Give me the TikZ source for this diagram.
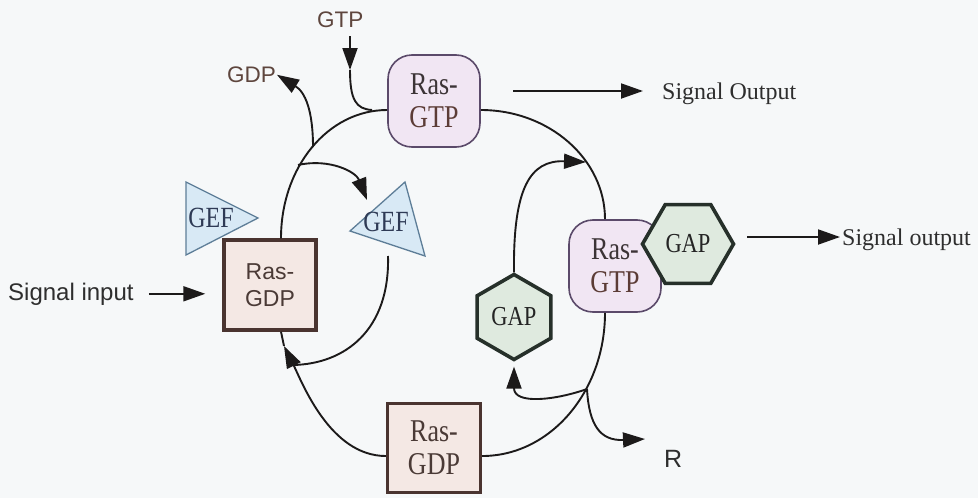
\documentclass[tikz,border=0pt]{standalone}
\usepackage{graphicx}
\usepackage{fontspec}
\setmainfont{Liberation Serif}
\setsansfont{Liberation Sans}
\usetikzlibrary{arrows.meta,shapes.geometric,calc}

% tall serif lettering used inside the protein shapes
\newcommand\tall[1]{\scalebox{1}[1.22]{#1}}

\definecolor{bgc}{HTML}{F6F8F9}
\definecolor{lineink}{HTML}{1C1A1A}
\definecolor{gtpfill}{HTML}{F1E6F3}
\definecolor{gtpline}{HTML}{5B4A6A}
\definecolor{gdpfill}{HTML}{F4E8E4}
\definecolor{gdpline}{HTML}{4A3430}
\definecolor{geffill}{HTML}{D8E9F5}
\definecolor{gefline}{HTML}{5E7E98}
\definecolor{gefink}{HTML}{2E3A55}
\definecolor{gapfill}{HTML}{DFEADF}
\definecolor{gapline}{HTML}{26302A}
\definecolor{gapink}{HTML}{242424}
\definecolor{ink}{HTML}{2E2E2E}
\definecolor{brownink}{HTML}{5E463E}
\definecolor{rasink}{HTML}{3C3436}
\definecolor{gtpink}{HTML}{5C3C36}
\definecolor{rasbrown}{HTML}{4A3A36}

\begin{document}
\begin{tikzpicture}[x=1pt,y=-1pt,
  conn/.style={line width=1.9pt, draw=lineink},
  tip/.style={conn, -{Triangle[length=22pt,width=15pt]}},
  gtpbox/.style={draw=gtpline, fill=gtpfill, line width=1.6pt,
    rounded corners=24pt, minimum width=92pt, minimum height=92pt,
    inner sep=0pt, align=center, text=rasink,
    font=\fontsize{26}{33}\selectfont},
  gdpbox/.style={draw=gdpline, fill=gdpfill, line width=3.4pt,
    minimum width=92pt, minimum height=90pt, inner sep=0pt,
    align=center, text=rasbrown},
  gapshape/.style={draw=gapline, fill=gapfill, line width=3.6pt,
    regular polygon, regular polygon sides=6, inner sep=0pt,
    text=gapink, font=\fontsize{22.5}{26}\selectfont},
  gefshape/.style={draw=gefline, fill=geffill, line width=1.3pt},
  geftext/.style={inner sep=0pt, text=gefink, font=\fontsize{24}{26}\selectfont},
  sflabel/.style={inner sep=0pt, text=ink, font=\sffamily\fontsize{24}{28}\selectfont},
  nuclabel/.style={inner sep=0pt, text=brownink, font=\sffamily\fontsize{22.5}{26}\selectfont},
  seriflabel/.style={inner sep=0pt, text=ink, font=\fontsize{24}{28}\selectfont}
]
% canvas
\fill[bgc] (0,0) rectangle (978,498);
\useasboundingbox (0,0) rectangle (978,498);

% exchange factors (triangles)
\coordinate (gefLa) at (186,182);
\coordinate (gefLb) at (258,218);
\coordinate (gefLc) at (186,255);
\filldraw[gefshape] (gefLa) -- (gefLb) -- (gefLc) -- cycle;
\node[geftext] (gefL) at (211,218) {\tall{GEF}};

\coordinate (gefRa) at (350,231);
\coordinate (gefRb) at (405,182);
\coordinate (gefRc) at (425,256);
\filldraw[gefshape] (gefRa) -- (gefRb) -- (gefRc) -- cycle;
\node[geftext] (gefR) at (386,222) {\tall{GEF}};

% Ras states
\node[gdpbox, font=\sffamily\fontsize{23}{27}\selectfont] (gdpL) at (270,285) {Ras-\\GDP};
\node[gtpbox] (gtpT) at (434,101) {\tall{Ras-}\\\textcolor{gtpink}{\tall{GTP}}};
\node[gdpbox, minimum width=93pt, minimum height=89pt, font=\fontsize{26}{33}\selectfont] (gdpB) at (434,448) {\tall{Ras-}\\\tall{GDP}};
\node[gtpbox] (gtpR) at (615,266) {\tall{Ras-}\\\textcolor{gtpink}{\tall{GTP}}};

% GTPase activating proteins
\node[gapshape, minimum size=91pt] (gapR) at (688,244) {\tall{GAP}};
\node[gapshape, minimum size=85pt, shape border rotate=30] (gapL) at (514,317) {\tall{GAP}};

% text labels
\node[sflabel, anchor=base west] (sigin) at (8,300) {Signal input};
\node[nuclabel, anchor=base west] (gtp) at (317,27) {GTP};
\node[nuclabel, anchor=base west] (gdp) at (227,82) {GDP};
\node[seriflabel, anchor=base west] (sigOut) at (662,99) {Signal Output};
\node[seriflabel, anchor=base west] (sigOut2) at (842,245) {Signal output};
\node[sflabel, anchor=base west, font=\sffamily\fontsize{25}{28}\selectfont] (rlab) at (664,467) {R};

% main cycle
\draw[conn] ($(gtpT.west)+(0,9)$) .. controls (328,110) and (281,167) .. ($(gdpL.north)+(11,0)$);
\coordinate (tipL) at (284,346);
\draw[tip] ($(gdpB.west)+(0,8)$) .. controls (330,456) and (302,382) .. (tipL);
\draw[conn] ($(gdpL.south)+(11,0)$) -- (tipL);
\draw[conn] ($(gtpT.east)+(0,9)$) .. controls (549,110) and (605,159) .. ($(gtpR.north)+(-10,0)$);
\draw[conn] ($(gtpR.south)+(-10,0)$) .. controls (605,392) and (550,456) .. ($(gdpB.east)+(0,8)$);

% nucleotide exchange
\coordinate (gtpIn) at (350,70);
\draw[tip, shorten <=9pt] (gtp.south -| gtpIn) -- (gtpIn);
\coordinate (gtpJoin) at (372,110);
\draw[conn] (gtpIn) .. controls (350,100) and (356,109) .. (gtpJoin);
\coordinate (gdpOut) at (313,147);
\draw[tip, shorten >=1pt] (gdpOut) .. controls (313,110) and (305,92) .. (gdp.east);

% GEF recycling
\coordinate (gefIn) at (298,165);
\coordinate (gefTip) at (367,200);
\draw[tip] (gefIn) .. controls (330,158) and (356,172) .. (gefTip);
\coordinate (gefOut) at (388,256);
\coordinate (gefMerge) at (293,365);
\draw[conn] (gefOut) .. controls (390,330) and (345,364) .. (gefMerge);

% GAP recycling and release
\coordinate (gapJoin) at (586,162);
\draw[tip] (gapL.north) .. controls (513,188) and (530,160) .. (gapJoin);
\coordinate (branch) at (587,389);
\draw[tip] (branch) .. controls (556,400) and (514,405) .. ($(gapL.south)+(0,5)$);
\coordinate (rTip) at (645,439);
\draw[tip] (branch) .. controls (589,425) and (600,441) .. (rTip);

% signal arrows
\draw[tip, shorten <=15pt, shorten >=17pt] (sigin.east) -- (sigin.east -| gdpL.west);
\coordinate (soStart) at (513,91);
\draw[tip, shorten >=19pt] (soStart) -- (soStart -| sigOut.west);
\coordinate (so2Start) at (747,237);
\draw[tip, shorten >=2pt] (so2Start) -- (so2Start -| sigOut2.west);
\end{tikzpicture}
\end{document}
